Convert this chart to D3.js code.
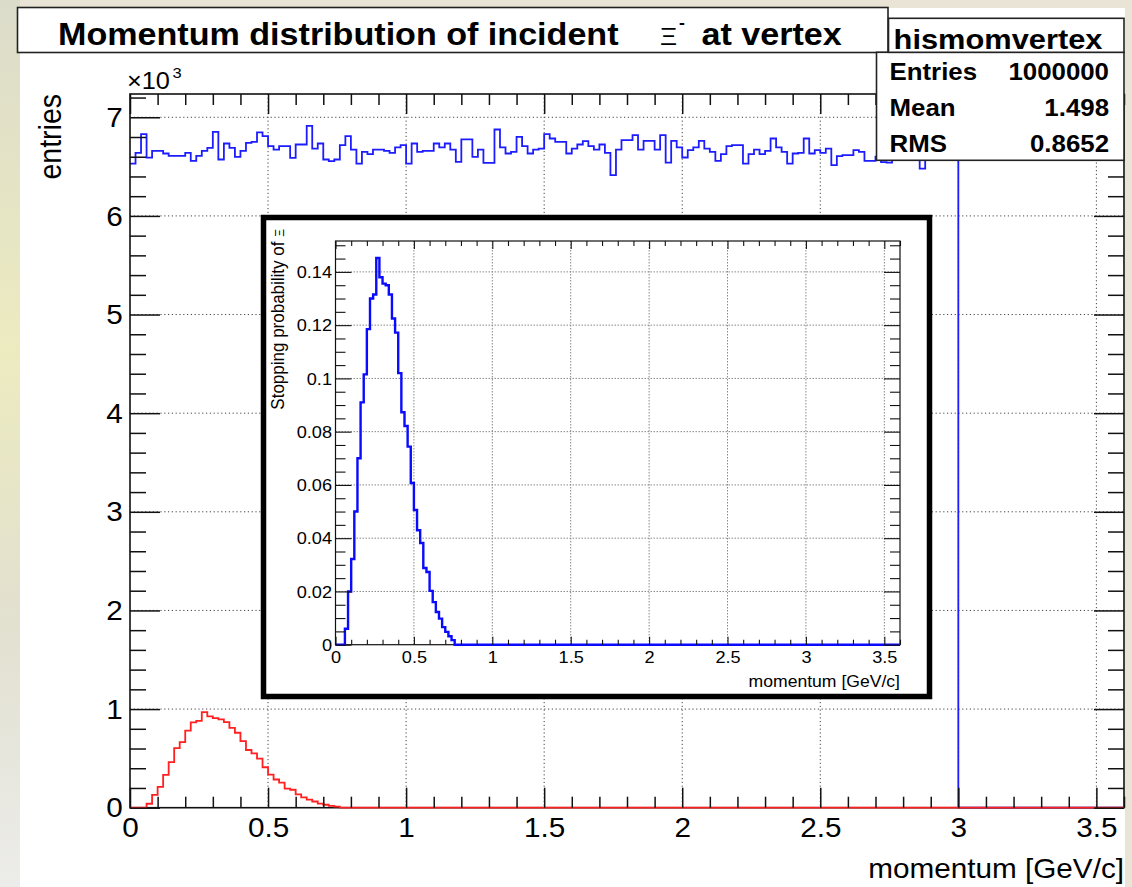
<!DOCTYPE html>
<html><head><meta charset="utf-8">
<script src="https://cdn.jsdelivr.net/npm/d3@7/dist/d3.min.js"></script>
<style>
html,body{margin:0;padding:0;background:#e9e4d6;}
svg{display:block;}
</style></head><body>
<svg id="c" width="1132" height="887"></svg>
<script>
// ---------------- data ----------------
const binWidth = 0.02;          // GeV/c per bin
const nBinsTotal = 180;         // 0 .. 3.6 GeV/c
// entries of incident Xi- momentum at vertex (blue), bins 0..149 (0..3 GeV/c)
const vertexCounts = [
 6531,6640,6829,6590,6660,6660,6633,6609,6609,6609,
 6640,6558,6609,6660,6690,6852,6572,6734,6690,6599,
 6660,6741,6751,6846,6808,6707,6673,6707,6707,6589,
 6724,6724,6913,6683,6734,6572,6555,6572,6717,6808,
 6673,6531,6650,6626,6673,6673,6660,6640,6694,6717,
 6531,6734,6650,6660,6660,6734,6694,6734,6673,6548,
 6775,6775,6599,6673,6538,6538,6876,6694,6633,6650,
 6802,6707,6633,6673,6683,6829,6785,6751,6751,6633,
 6683,6724,6758,6707,6673,6724,6640,6413,6673,6768,
 6768,6819,6673,6761,6761,6673,6819,6541,6761,6694,
 6592,6667,6694,6761,6683,6650,6558,6626,6707,6717,
 6717,6531,6626,6673,6626,6660,6785,6694,6650,6531,
 6633,6640,6785,6633,6667,6640,6683,6514,6606,6616,
 6616,6667,6650,6558,6558,6600,6545,6540,6640,6680,
 6650,6620,6600,6480,6630,6690,6650,6700,6660,6640
];
// stopped Xi- entries (red), bins 0..37
const stoppedCounts = [
 0,0,0,40,130,212,333,462,604,665,
 782,865,880,968,925,908,895,868,810,760,
 675,585,550,498,410,336,286,254,193,182,
 136,104,82,63,42,30,19,10
];
// stopping probability (inset), bins 0..37
const stopProb = [
 0,0,0,0.006,0.020,0.0322,0.050,0.070,0.091,0.1015,
 0.1185,0.130,0.1315,0.1452,0.1380,0.1356,0.1350,0.1315,0.1225,0.1172,
 0.1020,0.0873,0.0821,0.0744,0.0607,0.0506,0.0430,0.0382,0.0288,0.0273,
 0.0202,0.0160,0.0123,0.0098,0.0066,0.0048,0.0032,0.0017
];
const xTicksMain = [0,0.5,1,1.5,2,2.5,3,3.5];
const yTicksMain = [0,1000,2000,3000,4000,5000,6000,7000];
const xTicksInset = [0,0.5,1,1.5,2,2.5,3,3.5];
const yTicksInset = [0,0.02,0.04,0.06,0.08,0.1,0.12,0.14];
const statsName = "hismomvertex";
const statsLabels = ["Entries","Mean","RMS"];
const statsValues = ["1000000","1.498","0.8652"];

// ---------------- setup ----------------
const FONT = '"Liberation Sans", Arial, Helvetica, sans-serif';
const SX = 1.1;
const svg = d3.select("#c").attr("font-family", FONT);

// background
svg.append("rect").attr("width",1132).attr("height",887).attr("fill","#e9e4d6");
const lg = svg.append("defs").append("linearGradient").attr("id","lg").attr("x1",0).attr("y1",0).attr("x2",0).attr("y2",1);
lg.append("stop").attr("offset","0%").attr("stop-color","#dcdccb");
lg.append("stop").attr("offset","40%").attr("stop-color","#ecebc0");
lg.append("stop").attr("offset","70%").attr("stop-color","#e2e0cf");
lg.append("stop").attr("offset","100%").attr("stop-color","#ececea");
svg.append("rect").attr("x",0).attr("y",0).attr("width",20).attr("height",887).attr("fill","url(#lg)");
svg.append("rect").attr("x",20).attr("y",8).attr("width",1105).attr("height",879).attr("fill","#ffffff");

function T(parent, x, y, str, size, o = {}) {
  return parent.append("text")
    .attr("transform", `translate(${x},${y}) scale(${SX},1)` + (o.rot ? ` rotate(${o.rot})` : ""))
    .attr("font-size", size).attr("font-weight", o.bold ? "bold" : "normal")
    .attr("text-anchor", o.anchor || "start").attr("fill", o.fill || "#000").text(str);
}

function axis(parent, orient, scale, values, size, pos, fmt, fontSize, padding, sw) {
  const mk = {bottom:d3.axisBottom, top:d3.axisTop, left:d3.axisLeft, right:d3.axisRight}[orient];
  const gen = mk(scale).tickValues(values).tickSize(-size).tickPadding(padding || 0)
    .tickFormat(fmt || (() => ""));
  const g = parent.append("g")
    .attr("transform", (orient === "bottom" || orient === "top") ? `translate(0,${pos})` : `translate(${pos},0)`)
    .call(gen);
  g.attr("font-family", FONT).attr("font-size", fontSize || 10);
  g.select(".domain").remove();
  g.selectAll("line").attr("stroke", "#111").attr("stroke-width", sw || 1.5);
  g.selectAll("text").attr("fill", "#000").attr("transform", `scale(${SX},1)`);
  return g;
}

function stepPts(vals) {
  const pts = [];
  for (let i = 0; i < nBinsTotal; i++) pts.push([i * binWidth, i < vals.length ? vals[i] : 0]);
  pts.push([nBinsTotal * binWidth, 0]);
  return pts;
}
const minorX = d3.range(0, 3.6001, 0.1).filter(v => Math.abs(v*2 - Math.round(v*2)) > 1e-6);

// ---------------- main frame ----------------
const L = 130, R = 1124, TOP = 94, BOT = 807.7;
const x = d3.scaleLinear([0, 3.6], [L, R]);
const y = d3.scaleLinear([0, 7236], [BOT, TOP]);
const minorY = d3.range(0, 7236, 200).filter(v => v % 1000 !== 0);

const main = svg.append("g");
// grid
main.append("g").selectAll("line").data(xTicksMain.filter(v => v > 0)).join("line")
  .attr("x1", d => x(d)).attr("x2", d => x(d)).attr("y1", TOP).attr("y2", BOT)
  .attr("stroke", "#444").attr("stroke-width", 1).attr("stroke-dasharray", "1.2,2.6");
main.append("g").selectAll("line").data(yTicksMain.filter(v => v > 0)).join("line")
  .attr("x1", L).attr("x2", R).attr("y1", d => y(d)).attr("y2", d => y(d))
  .attr("stroke", "#444").attr("stroke-width", 1).attr("stroke-dasharray", "1.2,2.6");

const line = d3.line().x(d => x(d[0])).y(d => y(d[1])).curve(d3.curveStepAfter);
main.append("path").attr("d", line(stepPts(vertexCounts))).attr("fill", "none")
  .attr("stroke", "#1c1cff").attr("stroke-width", 1.8);
main.append("rect").attr("x", L).attr("y", TOP).attr("width", R - L).attr("height", BOT - TOP)
  .attr("fill", "none").attr("stroke", "#111").attr("stroke-width", 1.6);
main.append("path").attr("d", line(stepPts(stoppedCounts))).attr("fill", "none")
  .attr("stroke", "#ff2020").attr("stroke-width", 1.8);

// axes
axis(main, "bottom", x, xTicksMain, 20, BOT, d => String(d), 27, 10);
axis(main, "bottom", x, minorX, 11, BOT);
axis(main, "top", x, xTicksMain, 20, TOP);
axis(main, "top", x, minorX, 11, TOP);
axis(main, "left", y, yTicksMain, 30, L, d => String(d / 1000), 27, 6.5).selectAll("text").attr("dy", "0.34em");
axis(main, "left", y, minorY, 16, L);
axis(main, "right", y, yTicksMain, 30, R);
axis(main, "right", y, minorY, 16, R);

T(main, 1124, 878, "momentum [GeV/c]", 27, {anchor: "end"});
T(main, 61, 94, "entries", 28.5, {anchor: "end", rot: -90});
T(main, 127, 89, "\u00d710", 23);
T(main, 172.5, 78, "3", 15);

// ---------------- inset ----------------
const inset = svg.append("g");
inset.append("rect").attr("x", 263.5).attr("y", 217.5).attr("width", 666).attr("height", 479)
  .attr("fill", "#fff").attr("stroke", "#000").attr("stroke-width", 5.5);
const iL = 335.5, iR = 900, iT = 241, iB = 644.7;
const xi = d3.scaleLinear([0, 3.6], [iL, iR]);
const yi = d3.scaleLinear([0, 0.1516], [iB, iT]);
const minorYi = d3.range(0, 0.1516, 0.005).filter(v => Math.abs(v / 0.02 - Math.round(v / 0.02)) > 1e-6);

inset.append("g").selectAll("line").data(xTicksInset.filter(v => v > 0)).join("line")
  .attr("x1", d => xi(d)).attr("x2", d => xi(d)).attr("y1", iT).attr("y2", iB)
  .attr("stroke", "#888").attr("stroke-width", 1).attr("stroke-dasharray", "1.5,1.5");
inset.append("g").selectAll("line").data(yTicksInset.filter(v => v > 0)).join("line")
  .attr("x1", iL).attr("x2", iR).attr("y1", d => yi(d)).attr("y2", d => yi(d))
  .attr("stroke", "#888").attr("stroke-width", 1).attr("stroke-dasharray", "1.5,1.5");
inset.append("rect").attr("x", iL).attr("y", iT).attr("width", iR - iL).attr("height", iB - iT)
  .attr("fill", "none").attr("stroke", "#111").attr("stroke-width", 1.2);
const lineI = d3.line().x(d => xi(d[0])).y(d => yi(d[1])).curve(d3.curveStepAfter);
inset.append("path").attr("d", lineI(stepPts(stopProb))).attr("fill", "none")
  .attr("stroke", "#0a0aff").attr("stroke-width", 2.4);

const fmtI = d => d === 0 ? "0" : String(+d.toFixed(2));
axis(inset, "bottom", xi, xTicksInset, 8, iB, d => String(d), 16.5, 6.5, 1.1);
axis(inset, "bottom", xi, minorX, 5, iB, null, 10, 0, 1.1);
axis(inset, "top", xi, xTicksInset, 8, iT, null, 10, 0, 1.1);
axis(inset, "top", xi, minorX, 5, iT, null, 10, 0, 1.1);
axis(inset, "left", yi, yTicksInset, 16, iL, fmtI, 16.5, 3.2, 1.1).selectAll("text").attr("dy", "0.34em");
axis(inset, "left", yi, minorYi, 10, iL, null, 10, 0, 1.1);
axis(inset, "right", yi, yTicksInset, 16, iR, null, 10, 0, 1.1);
axis(inset, "right", yi, minorYi, 10, iR, null, 10, 0, 1.1);

T(inset, 900, 687, "momentum [GeV/c]", 16, {anchor: "end"});
const yt = T(inset, 284, 229, "Stopping probability of ", 17, {anchor: "end", rot: -90});
yt.append("tspan").attr("font-size", 12).text("\u039e");

// ---------------- title ----------------
const tg = svg.append("g");
tg.append("rect").attr("x", 17.5).attr("y", 7.5).attr("width", 870.5).attr("height", 45)
  .attr("fill", "#fff").attr("stroke", "#222").attr("stroke-width", 1.6);
T(tg, 58, 45, "Momentum distribution of incident", 31, {bold: true});
T(tg, 660, 45, "\u039e", 24);
T(tg, 679, 28, "-", 16, {bold: true});
T(tg, 701.5, 45, "at vertex", 31, {bold: true});

// ---------------- stats box ----------------
const sg = svg.append("g");
sg.append("rect").attr("x", 876.5).attr("y", 52.3).attr("width", 247.5).attr("height", 108)
  .attr("fill", "#fff").attr("stroke", "#222").attr("stroke-width", 1.6);
sg.append("rect").attr("x", 888.5).attr("y", 18.3).attr("width", 235.5).attr("height", 34)
  .attr("fill", "#fff").attr("stroke", "#222").attr("stroke-width", 1.6);
T(sg, 998, 48.5, statsName, 28, {bold: true, anchor: "middle"});
const rowY = [80, 115.5, 151.5];
statsLabels.forEach((s, i) => T(sg, 889.5, rowY[i], s, 23.5, {bold: true}));
statsValues.forEach((s, i) => T(sg, 1109, rowY[i], s, 23.5, {bold: true, anchor: "end"}));
</script>
</body></html>
